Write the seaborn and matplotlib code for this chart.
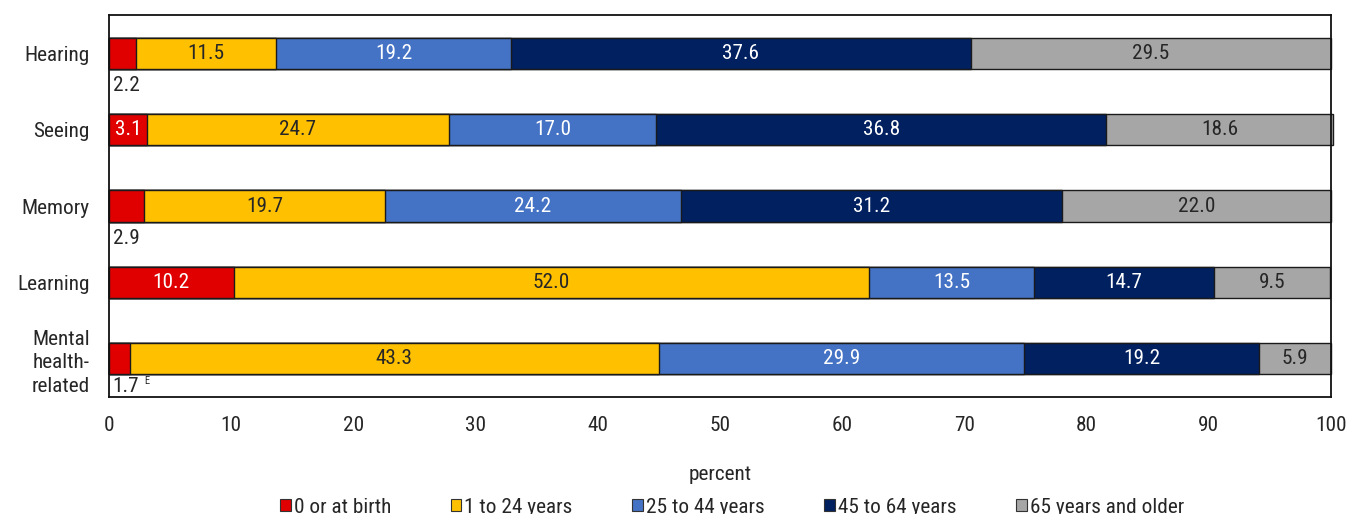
import matplotlib
matplotlib.use("Agg")
import matplotlib.pyplot as plt
from matplotlib.patches import Patch
import seaborn as sns
import pandas as pd
import numpy as np

categories = ["Hearing", "Seeing", "Memory", "Learning", "Mental\nhealth-\nrelated"]
series_names = ["0 or at birth", "1 to 24 years", "25 to 44 years", "45 to 64 years", "65 years and older"]
at_birth = [2.2, 3.1, 2.9, 10.2, 1.7]
y1_24 = [11.5, 24.7, 19.7, 52.0, 43.3]
y25_44 = [19.2, 17.0, 24.2, 13.5, 29.9]
y45_64 = [37.6, 36.8, 31.2, 14.7, 19.2]
y65_plus = [29.5, 18.6, 22.0, 9.5, 5.9]
x_ticks = [0, 10, 20, 30, 40, 50, 60, 70, 80, 90, 100]

colors = ["#E00000", "#FFC000", "#4472C4", "#002060", "#A6A6A6"]
text_colors = ["white", "#262626", "white", "white", "#262626"]
dark = "#262626"

sns.set_theme(style="white")
plt.rcParams["font.family"] = ["Roboto Condensed", "Liberation Sans", "DejaVu Sans"]

fig = plt.figure(figsize=(13.48, 5.14), dpi=100)
ax = fig.add_axes([109/1348, 117/514, (1331-109)/1348, (397-15)/514])

series = [at_birth, y1_24, y25_44, y45_64, y65_plus]
vals = np.array(series)
cum = np.cumsum(vals, axis=0)

for i in range(len(series) - 1, -1, -1):
    df = pd.DataFrame({"cat": categories, "val": cum[i]})
    sns.barplot(data=df, x="val", y="cat", orient="h", color=colors[i], saturation=1,
                width=0.41, edgecolor="#1a1a1a", linewidth=1.0, ax=ax)

for p in ax.patches:
    p.set_clip_on(False)

fs = 15.3
for i, s in enumerate(series):
    for j, v in enumerate(s):
        start = cum[i][j] - v
        center = start + v / 2
        if v < 3.0:
            off = 0.36 if j == len(categories) - 1 else 0.42
            ax.text(0.3, j + off, f"{v:.1f}", ha="left", va="center", fontsize=fs, color=dark)
            if j == len(categories) - 1:
                ax.annotate("E", xy=(0.3, j + off), xytext=(23, 4), textcoords="offset points",
                            ha="left", va="center", fontsize=7.5, color=dark)
        else:
            ax.text(center, j, f"{v:.1f}", ha="center", va="center", fontsize=fs, color=text_colors[i])

ax.set_xlim(0, 100)
ax.set_ylim(len(categories) - 0.5, -0.5)
ax.set_xticks(x_ticks)
ax.set_xticklabels([str(t) for t in x_ticks], fontsize=fs, color=dark)
ax.set_yticks(range(len(categories)))
ax.set_yticklabels(categories, fontsize=fs, color=dark, linespacing=1.28)
ax.tick_params(axis="both", length=0)
ax.tick_params(axis="x", pad=14)
ax.tick_params(axis="y", pad=14)
ax.set_xlabel("percent", fontsize=fs, color=dark, labelpad=21)
ax.set_ylabel("")
for sp in ax.spines.values():
    sp.set_visible(True)
    sp.set_color("#111111")
    sp.set_linewidth(1.3)
ax.grid(False)

handles = [Patch(facecolor=c, edgecolor="#333333", linewidth=0.8) for c in colors]
fig.legend(handles, series_names, loc="center", bbox_to_anchor=(0.543, 0.013), ncol=5,
           frameon=False, fontsize=fs, handlelength=0.5, handleheight=0.5, handletextpad=0.15,
           columnspacing=2.8, labelcolor=dark)

fig.savefig("out.png", dpi=100)
